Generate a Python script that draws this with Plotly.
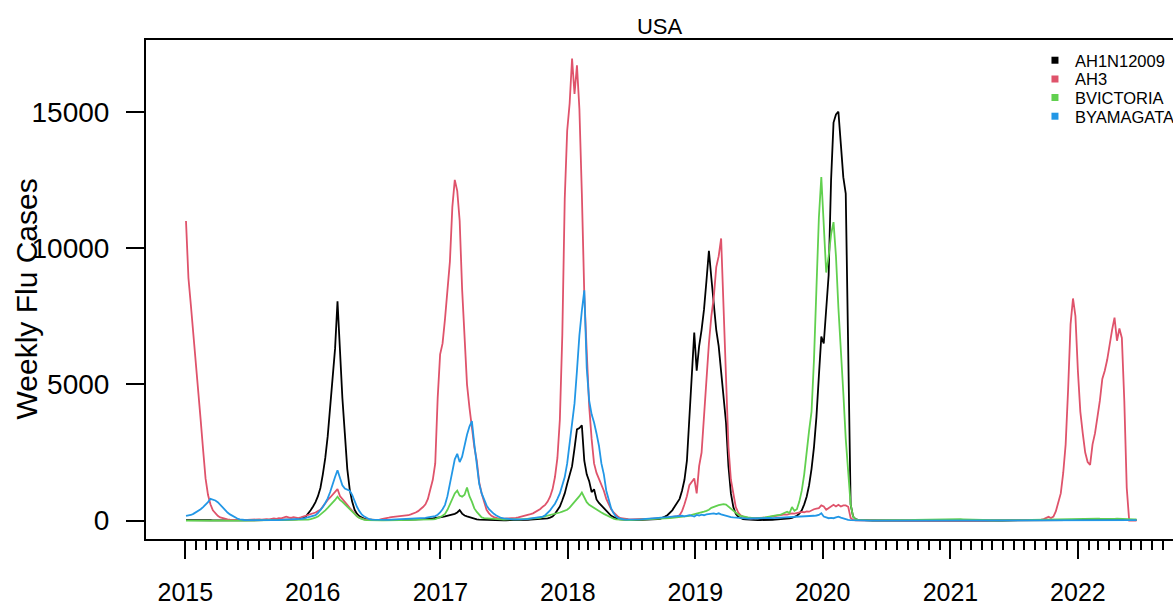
import pandas as pd
import plotly.graph_objects as go

# ---------------- data ----------------
week_start = "2015-01-03"          # first weekly observation (week ending)
n_weeks = 390
series_names = ["AH1N12009", "AH3", "BVICTORIA", "BYAMAGATA"]
series_colors = ["#000000", "#DF536B", "#61D04F", "#2297E6"]
year_labels = [2015, 2016, 2017, 2018, 2019, 2020, 2021, 2022]
y_tick_values = [0, 5000, 10000, 15000]

ah1n12009 = [
    20, 22, 18, 20, 25, 22, 18, 20, 15, 18,
    15, 12, 14, 10, 12, 10, 9, 10, 8, 9,
    8, 10, 9, 8, 10, 12, 10, 11, 13, 12,
    14, 12, 15, 14, 16, 18, 17, 20, 22, 25,
    28, 30, 35, 40, 45, 50, 60, 75, 100, 150,
    250, 380, 520, 680, 900, 1200, 1700, 2300, 3100, 4100,
    5000, 6300, 8050, 6200, 4500, 3200, 1900, 1150, 700, 400,
    250, 160, 100, 70, 50, 40, 35, 30, 25, 22,
    20, 18, 20, 22, 20, 25, 22, 25, 28, 30,
    32, 30, 35, 38, 40, 42, 45, 50, 55, 60,
    70, 80, 90, 100, 120, 140, 160, 180, 200, 220,
    250, 300, 390, 260, 190, 160, 130, 100, 70, 50,
    40, 35, 30, 28, 25, 22, 20, 20, 18, 18,
    15, 16, 15, 14, 15, 18, 20, 22, 25, 28,
    30, 35, 40, 45, 50, 55, 60, 70, 85, 110,
    150, 250, 380, 520, 750, 1000, 1350, 1700, 2000, 2650,
    3350, 3400, 3500, 2200, 1700, 1450, 1050, 1150, 780, 650,
    550, 450, 350, 260, 180, 130, 90, 60, 45, 35,
    30, 28, 25, 22, 20, 22, 20, 18, 20, 22,
    25, 30, 40, 55, 70, 100, 150, 200, 280, 380,
    520, 650, 800, 1100, 1500, 2200, 3700, 5600, 6900, 5500,
    6400, 7000, 7750, 8800, 9900, 8900, 7800, 7000, 6400, 5500,
    4700, 3600, 2000, 1000, 500, 250, 140, 90, 60, 45,
    35, 30, 28, 25, 22, 25, 22, 20, 22, 25,
    30, 35, 40, 45, 50, 60, 70, 85, 100, 130,
    180, 260, 380, 600, 880, 1300, 1900, 2700, 3800, 5300,
    6750, 6500, 7600, 9000, 12500, 14600, 14900, 15000, 13800, 12600,
    12000, 7000, 600, 150, 60, 30, 20, 15, 12, 10,
    8, 6, 5, 4, 3, 3, 2, 2, 2, 1,
    1, 1, 2, 1, 1, 1, 0, 1, 1, 0,
    1, 0, 1, 1, 0, 1, 1, 0, 0, 1,
    1, 1, 0, 1, 1, 2, 1, 1, 2, 1,
    2, 1, 2, 2, 3, 2, 3, 2, 3, 4,
    3, 4, 5, 4, 5, 6, 5, 7, 6, 8,
    7, 9, 8, 10, 9, 11, 12, 10, 13, 12,
    14, 13, 15, 16, 14, 17, 18, 16, 19, 20,
    18, 21, 22, 20, 23, 25, 22, 24, 26, 25,
    27, 26, 28, 30, 27, 29, 31, 28, 30, 32,
    30, 33, 31, 34, 32, 30, 28, 25, 22, 20,
]

ah3 = [
    10990, 8900, 7900, 6900, 5900, 5000, 3700, 2600, 1550, 950,
    600, 380, 260, 180, 120, 90, 60, 45, 35, 30,
    28, 25, 30, 35, 28, 32, 40, 35, 38, 45,
    50, 42, 55, 60, 48, 65, 80, 70, 95, 85,
    110, 150, 120, 100, 130, 110, 95, 120, 150, 170,
    200, 220, 250, 300, 350, 400, 520, 650, 760, 850,
    950, 1050, 1160, 900, 780, 680, 580, 470, 360, 250,
    160, 100, 70, 50, 40, 35, 30, 32, 28, 30,
    60, 70, 85, 110, 130, 140, 150, 160, 170, 175,
    180, 200, 230, 260, 300, 350, 420, 500, 600, 800,
    1150, 1500, 2100, 4500, 6100, 6500, 7400, 8500, 9500, 11500,
    12500, 12100, 11000, 8500, 6500, 5000, 4150, 3400, 2700, 2200,
    1400, 1000, 650, 400, 270, 180, 130, 100, 80, 70,
    75, 65, 70, 80, 90, 100, 120, 140, 160, 180,
    210, 240, 270, 320, 370, 430, 513, 580, 700, 880,
    1150, 1600, 2300, 3700, 6800, 11800, 14300, 15300, 16950, 15650,
    16700, 15100, 12000, 8300, 6200, 4200, 3000, 2100, 1750, 1550,
    1300, 1100, 800, 600, 420, 300, 200, 130, 90, 70,
    60, 55, 50, 58, 52, 60, 55, 62, 58, 60,
    62, 65, 70, 75, 80, 90, 100, 110, 120, 135,
    150, 170, 200, 350, 600, 900, 1300, 1450, 1550, 1000,
    2000, 2500, 3900, 5400, 6500, 7500, 8200, 9300, 9700, 10350,
    7800, 4900, 2700, 1500, 1000, 500, 300, 200, 150, 110,
    90, 80, 85, 70, 90, 100, 95, 110, 120, 140,
    150, 160, 180, 200, 210, 230, 220, 250, 270, 260,
    280, 300, 320, 310, 340, 330, 380, 420, 440, 460,
    560, 520, 400, 450, 500, 580, 520, 580, 520, 560,
    560, 510, 100, 30, 15, 10, 8, 5, 5, 4,
    4, 3, 3, 2, 2, 3, 2, 1, 2, 1,
    1, 2, 1, 1, 2, 1, 1, 2, 1, 1,
    2, 1, 1, 2, 1, 2, 1, 1, 2, 2,
    1, 2, 2, 1, 2, 3, 2, 3, 2, 3,
    3, 4, 3, 5, 4, 5, 6, 5, 7, 6,
    8, 7, 9, 10, 9, 12, 11, 13, 15, 14,
    16, 18, 17, 20, 22, 21, 25, 28, 30, 35,
    40, 60, 90, 140, 100, 150, 350, 650, 1000, 1750,
    2800, 4800, 7200, 8150, 7500, 5500, 4000, 3200, 2500, 2150,
    2050, 2800, 3200, 3800, 4400, 5200, 5500, 5900, 6500, 7000,
    7450, 6600, 7050, 6700, 4400, 1200, 0, 0, 0, 0,
]

bvictoria = [
    5, 6, 5, 7, 6, 8, 7, 6, 8, 7,
    6, 5, 7, 6, 5, 4, 5, 6, 4, 5,
    4, 5, 4, 3, 4, 5, 4, 5, 6, 5,
    6, 7, 6, 8, 7, 9, 8, 10, 11, 12,
    12, 14, 15, 16, 18, 20, 22, 24, 28, 32,
    40, 60, 80, 110, 150, 220, 300, 380, 470, 560,
    640, 760, 880, 760, 690, 600, 520, 420, 330, 240,
    160, 100, 50, 30, 20, 15, 12, 10, 12, 10,
    12, 14, 13, 15, 16, 18, 17, 20, 22, 24,
    25, 28, 26, 30, 32, 35, 34, 38, 40, 42,
    45, 50, 60, 90, 130, 180, 250, 400, 600, 800,
    1000, 1100, 920, 880, 950, 1220, 900, 700, 450, 320,
    200, 120, 90, 80, 70, 60, 55, 50, 48, 45,
    42, 40, 38, 40, 42, 45, 48, 50, 55, 58,
    60, 65, 70, 80, 90, 100, 140, 160, 180, 200,
    220, 250, 280, 300, 330, 370, 400, 480, 580, 700,
    820, 900, 1030, 820, 680, 580, 520, 450, 400, 340,
    300, 250, 210, 150, 100, 70, 50, 40, 35, 30,
    28, 25, 22, 25, 28, 30, 32, 35, 38, 40,
    45, 48, 50, 55, 60, 65, 70, 80, 90, 100,
    110, 120, 130, 140, 145, 150, 180, 210, 230, 250,
    270, 300, 330, 360, 400, 470, 510, 520, 570, 590,
    610, 590, 520, 420, 360, 280, 220, 180, 150, 140,
    120, 100, 90, 85, 95, 90, 110, 120, 140, 160,
    170, 180, 200, 210, 250, 310, 330, 280, 500, 360,
    420, 700, 1100, 1700, 2600, 3300, 4000, 5900, 8500, 11100,
    12600, 10800, 9100, 9700, 10500, 10950, 9700, 7800, 6400, 4700,
    3000, 1600, 600, 150, 50, 30, 20, 15, 12, 10,
    8, 10, 9, 12, 10, 8, 9, 11, 10, 12,
    14, 12, 15, 18, 16, 20, 22, 25, 28, 30,
    32, 35, 38, 40, 45, 48, 50, 55, 60, 58,
    62, 65, 70, 68, 72, 66, 60, 55, 50, 45,
    40, 38, 35, 32, 30, 28, 25, 22, 20, 18,
    16, 15, 14, 12, 13, 12, 10, 11, 12, 14,
    15, 16, 18, 20, 22, 25, 28, 30, 32, 35,
    38, 42, 40, 45, 50, 48, 55, 52, 60, 58,
    62, 70, 65, 72, 80, 75, 68, 72, 78, 70,
    65, 72, 68, 75, 70, 66, 72, 80, 74, 70,
    68, 72, 65, 70, 62, 58, 55, 50, 48, 45,
]

byamagata = [
    180, 190, 210, 250, 300, 360, 420, 500, 580, 680,
    800, 780, 740, 680, 580, 500, 420, 300, 230, 170,
    120, 80, 50, 30, 25, 22, 20, 18, 20, 15,
    15, 14, 16, 15, 18, 16, 20, 22, 25, 28,
    30, 32, 35, 40, 45, 50, 55, 65, 80, 100,
    120, 140, 160, 200, 280, 380, 500, 650, 820, 1050,
    1370, 1600, 1850, 1550, 1300, 1180, 1150, 1100, 950, 720,
    500, 340, 220, 150, 90, 55, 40, 35, 30, 28,
    25, 28, 30, 32, 35, 38, 40, 42, 45, 50,
    52, 55, 60, 65, 70, 75, 80, 90, 100, 120,
    130, 150, 170, 220, 300, 420, 580, 900, 1400, 1900,
    2250, 2450, 2150, 2350, 2800, 3150, 3450, 3650, 2800, 1950,
    1350, 1000, 750, 560, 420, 320, 250, 190, 140, 100,
    85, 70, 60, 55, 50, 48, 45, 50, 55, 60,
    70, 80, 90, 100, 110, 130, 150, 200, 280, 380,
    500, 620, 800, 1000, 1300, 1600, 2100, 2800, 3400, 4300,
    5500, 6800, 7700, 8450, 5600, 4400, 3900, 3600, 3200, 2750,
    2100, 1700, 1100, 750, 450, 270, 150, 90, 60, 45,
    40, 38, 35, 40, 42, 45, 50, 55, 60, 65,
    70, 75, 80, 85, 90, 100, 110, 130, 140, 150,
    160, 150, 170, 180, 160, 190, 200, 180, 150, 210,
    190, 220, 200, 230, 250, 260, 270, 240, 270, 230,
    200, 180, 150, 130, 120, 110, 100, 90, 85, 80,
    75, 80, 85, 80, 90, 100, 95, 110, 100, 105,
    90, 95, 100, 90, 105, 110, 120, 115, 130, 140,
    145, 150, 160, 150, 165, 170, 175, 180, 190, 210,
    270, 150, 120, 90, 100, 90, 120, 150, 110, 80,
    50, 30, 20, 15, 12, 10, 8, 8, 7, 6,
    5, 4, 4, 3, 3, 2, 2, 2, 1, 1,
    1, 2, 1, 1, 0, 1, 1, 2, 1, 0,
    1, 0, 1, 1, 2, 1, 0, 1, 1, 1,
    0, 1, 1, 0, 1, 2, 1, 1, 0, 1,
    1, 1, 2, 1, 0, 1, 1, 2, 1, 1,
    2, 1, 1, 2, 1, 2, 2, 1, 2, 3,
    2, 3, 2, 3, 4, 3, 4, 5, 4, 5,
    6, 5, 7, 6, 8, 7, 9, 8, 10, 9,
    11, 10, 12, 11, 13, 12, 14, 13, 15, 14,
    16, 15, 17, 18, 16, 19, 18, 20, 19, 21,
    22, 20, 23, 21, 24, 22, 25, 23, 24, 22,
]

# ---------------- figure ----------------
weeks = pd.date_range(week_start, periods=n_weeks, freq="7D")
month_ticks = pd.date_range("2015-01-01", "2023-01-01", freq="MS")

FONT = "Liberation Sans, Arial, Helvetica, sans-serif"
fig = go.Figure()

for name, values, color in zip(series_names, [ah1n12009, ah3, bvictoria, byamagata], series_colors):
    fig.add_trace(go.Scatter(
        x=weeks[:len(values)], y=values, mode="lines", name=name,
        line=dict(color=color, width=1.8), showlegend=False,
    ))

# legend entries drawn as small squares (as in the original base-R legend);
# one legend box per entry so the rows can sit as tightly as in the original
legend_ids = ["legend", "legend2", "legend3", "legend4"]
legend_tops = [0.994, 0.9565, 0.9192, 0.8818]
for name, color, lid in zip(series_names, series_colors, legend_ids):
    fig.add_trace(go.Scatter(
        x=[None], y=[None], mode="markers", name=name, legend=lid,
        marker=dict(symbol="square", size=7, color=color), showlegend=True,
    ))

legend_style = dict(x=0.8656, xanchor="left", yanchor="top",
                    font=dict(size=16.5, family=FONT, color="black"),
                    bgcolor="rgba(0,0,0,0)", borderwidth=0, itemwidth=30, tracegroupgap=0)

fig.update_layout(
    width=1173, height=605,
    margin=dict(l=146, r=0, t=40, b=66, autoexpand=False),
    paper_bgcolor="white", plot_bgcolor="white",
    font=dict(family=FONT, color="black"),
    title=dict(text="USA", x=0.5, xref="paper", xanchor="center",
               y=1 - 26.7 / 605, yref="container", yanchor="middle",
               font=dict(size=22, family=FONT, color="black")),
    annotations=[dict(text="Weekly Flu Cases", textangle=-90, showarrow=False,
                      xref="paper", yref="paper", x=0, y=0.48, xshift=-120,
                      xanchor="center", yanchor="middle",
                      font=dict(size=30, family=FONT, color="black"))],
)
fig.update_layout({lid: dict(legend_style, y=top) for lid, top in zip(legend_ids, legend_tops)})

fig.update_xaxes(
    type="date", range=["2014-09-10 10:00", "2022-09-30 12:00"],
    tickmode="array", tickvals=[f"{y}-01-01" for y in year_labels],
    ticktext=[str(y) for y in year_labels],
    ticks="outside", ticklen=18, tickwidth=1.5, tickcolor="black",
    tickfont=dict(size=25, family=FONT, color="black"), ticklabelstandoff=12,
    showline=True, linewidth=2, linecolor="black", mirror=True,
    showgrid=False, zeroline=False,
    minor=dict(tickmode="array", tickvals=list(month_ticks), ticks="outside",
               ticklen=9, tickwidth=1.5, tickcolor="black", showgrid=False),
)
fig.update_yaxes(
    range=[-672, 17630], tickmode="array", tickvals=y_tick_values, tickformat="d",
    ticks="outside", ticklen=18, tickwidth=1.5, tickcolor="black",
    tickfont=dict(size=28, family=FONT, color="black"), ticklabelstandoff=11,
    showline=True, linewidth=2, linecolor="black", mirror=False,
    showgrid=False, zeroline=False,
)

fig.write_html(
    "out.html",
    config={"displayModeBar": False},
    post_script="document.body.style.margin='0px';document.body.style.overflow='hidden';",
)
